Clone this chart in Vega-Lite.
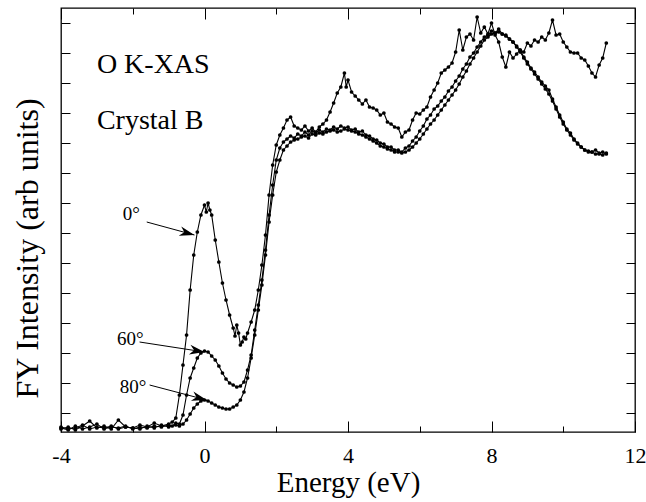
{
  "$schema": "https://vega.github.io/schema/vega-lite/v6.json",
  "width": 574,
  "height": 424,
  "autosize": "none",
  "padding": {"left": 61, "top": 8, "right": 11, "bottom": 70},
  "background": "white",
  "config": {
    "view": {"stroke": "black", "strokeWidth": 1.3},
    "axis": {"tickColor": "black", "tickWidth": 1, "domain": false, "grid": false, "labelColor": "black", "titleColor": "black", "labelFont": "Liberation Serif", "titleFont": "Liberation Serif", "titleFontWeight": "normal"}
  },
  "resolve": {"axis": {"x": "independent", "y": "independent"}},
  "datasets": {
    "deg0": [
      {"energy": -4.0, "intensity": 0.03}, {"energy": -3.8, "intensity": 0.05}, {"energy": -3.6, "intensity": 0.02}, {"energy": -3.4, "intensity": 0.06}, {"energy": -3.2, "intensity": 0.11}, {"energy": -3.0, "intensity": 0.04}, {"energy": -2.8, "intensity": 0.06}, {"energy": -2.6, "intensity": 0.03}, {"energy": -2.4, "intensity": 0.12}, {"energy": -2.2, "intensity": 0.05}, {"energy": -2.0, "intensity": 0.04}, {"energy": -1.8, "intensity": 0.07}, {"energy": -1.6, "intensity": 0.05}, {"energy": -1.4, "intensity": 0.09}, {"energy": -1.2, "intensity": 0.06}, {"energy": -1.0, "intensity": 0.08}, {"energy": -0.9, "intensity": 0.10}, {"energy": -0.8, "intensity": 0.14}, {"energy": -0.7, "intensity": 0.37}, {"energy": -0.6, "intensity": 0.67}, {"energy": -0.5, "intensity": 0.97}, {"energy": -0.4, "intensity": 1.42}, {"energy": -0.3, "intensity": 1.77}, {"energy": -0.2, "intensity": 2.00}, {"energy": -0.1, "intensity": 2.17}, {"energy": 0.0, "intensity": 2.27}, {"energy": 0.05, "intensity": 2.20}, {"energy": 0.1, "intensity": 2.29}, {"energy": 0.15, "intensity": 2.22}, {"energy": 0.2, "intensity": 2.17}, {"energy": 0.3, "intensity": 1.92}, {"energy": 0.4, "intensity": 1.70}, {"energy": 0.5, "intensity": 1.49}, {"energy": 0.6, "intensity": 1.32}, {"energy": 0.7, "intensity": 1.17}, {"energy": 0.8, "intensity": 1.04}, {"energy": 0.85, "intensity": 0.96}, {"energy": 0.9, "intensity": 1.07}, {"energy": 0.95, "intensity": 0.99}, {"energy": 1.0, "intensity": 0.87}, {"energy": 1.05, "intensity": 0.90}, {"energy": 1.1, "intensity": 0.95}, {"energy": 1.15, "intensity": 0.93}, {"energy": 1.2, "intensity": 0.99}, {"energy": 1.3, "intensity": 1.10}, {"energy": 1.4, "intensity": 1.22}, {"energy": 1.5, "intensity": 1.42}, {"energy": 1.6, "intensity": 1.67}, {"energy": 1.7, "intensity": 1.97}, {"energy": 1.8, "intensity": 2.37}, {"energy": 1.9, "intensity": 2.67}, {"energy": 2.0, "intensity": 2.87}, {"energy": 2.1, "intensity": 2.97}, {"energy": 2.2, "intensity": 3.04}, {"energy": 2.3, "intensity": 3.12}, {"energy": 2.4, "intensity": 3.15}, {"energy": 2.5, "intensity": 3.06}, {"energy": 2.6, "intensity": 3.04}, {"energy": 2.7, "intensity": 3.02}, {"energy": 2.8, "intensity": 3.06}, {"energy": 2.9, "intensity": 3.01}, {"energy": 3.0, "intensity": 3.04}, {"energy": 3.1, "intensity": 3.00}, {"energy": 3.2, "intensity": 3.05}, {"energy": 3.3, "intensity": 3.08}, {"energy": 3.4, "intensity": 3.12}, {"energy": 3.5, "intensity": 3.20}, {"energy": 3.6, "intensity": 3.29}, {"energy": 3.7, "intensity": 3.39}, {"energy": 3.8, "intensity": 3.45}, {"energy": 3.9, "intensity": 3.59}, {"energy": 3.95, "intensity": 3.45}, {"energy": 4.0, "intensity": 3.52}, {"energy": 4.1, "intensity": 3.40}, {"energy": 4.2, "intensity": 3.36}, {"energy": 4.3, "intensity": 3.32}, {"energy": 4.4, "intensity": 3.28}, {"energy": 4.5, "intensity": 3.32}, {"energy": 4.6, "intensity": 3.25}, {"energy": 4.7, "intensity": 3.24}, {"energy": 4.8, "intensity": 3.22}, {"energy": 4.9, "intensity": 3.17}, {"energy": 5.0, "intensity": 3.19}, {"energy": 5.1, "intensity": 3.10}, {"energy": 5.2, "intensity": 3.08}, {"energy": 5.3, "intensity": 3.05}, {"energy": 5.4, "intensity": 3.04}, {"energy": 5.5, "intensity": 2.95}, {"energy": 5.6, "intensity": 3.00}, {"energy": 5.7, "intensity": 3.02}, {"energy": 5.8, "intensity": 3.12}, {"energy": 5.9, "intensity": 3.19}, {"energy": 6.0, "intensity": 3.18}, {"energy": 6.1, "intensity": 3.22}, {"energy": 6.2, "intensity": 3.25}, {"energy": 6.3, "intensity": 3.35}, {"energy": 6.4, "intensity": 3.42}, {"energy": 6.5, "intensity": 3.49}, {"energy": 6.6, "intensity": 3.59}, {"energy": 6.7, "intensity": 3.62}, {"energy": 6.8, "intensity": 3.65}, {"energy": 6.9, "intensity": 3.69}, {"energy": 7.0, "intensity": 3.80}, {"energy": 7.1, "intensity": 4.02}, {"energy": 7.2, "intensity": 3.82}, {"energy": 7.3, "intensity": 3.95}, {"energy": 7.4, "intensity": 3.98}, {"energy": 7.5, "intensity": 3.92}, {"energy": 7.6, "intensity": 4.15}, {"energy": 7.7, "intensity": 3.99}, {"energy": 7.8, "intensity": 4.05}, {"energy": 7.9, "intensity": 3.98}, {"energy": 8.0, "intensity": 4.09}, {"energy": 8.1, "intensity": 3.97}, {"energy": 8.2, "intensity": 3.90}, {"energy": 8.3, "intensity": 3.75}, {"energy": 8.4, "intensity": 3.65}, {"energy": 8.5, "intensity": 3.80}, {"energy": 8.6, "intensity": 3.74}, {"energy": 8.7, "intensity": 3.78}, {"energy": 8.8, "intensity": 3.82}, {"energy": 8.9, "intensity": 3.80}, {"energy": 9.0, "intensity": 3.89}, {"energy": 9.1, "intensity": 3.86}, {"energy": 9.2, "intensity": 3.92}, {"energy": 9.3, "intensity": 3.90}, {"energy": 9.4, "intensity": 3.95}, {"energy": 9.5, "intensity": 3.92}, {"energy": 9.6, "intensity": 3.99}, {"energy": 9.7, "intensity": 4.12}, {"energy": 9.8, "intensity": 3.97}, {"energy": 9.9, "intensity": 3.98}, {"energy": 10.0, "intensity": 3.90}, {"energy": 10.1, "intensity": 3.85}, {"energy": 10.2, "intensity": 3.80}, {"energy": 10.3, "intensity": 3.79}, {"energy": 10.4, "intensity": 3.79}, {"energy": 10.5, "intensity": 3.74}, {"energy": 10.6, "intensity": 3.72}, {"energy": 10.7, "intensity": 3.66}, {"energy": 10.8, "intensity": 3.59}, {"energy": 10.9, "intensity": 3.55}, {"energy": 11.0, "intensity": 3.67}, {"energy": 11.1, "intensity": 3.74}, {"energy": 11.2, "intensity": 3.89}
    ],
    "deg60": [
      {"energy": -4.0, "intensity": 0.04}, {"energy": -3.8, "intensity": 0.02}, {"energy": -3.6, "intensity": 0.06}, {"energy": -3.4, "intensity": 0.03}, {"energy": -3.2, "intensity": 0.05}, {"energy": -3.0, "intensity": 0.08}, {"energy": -2.8, "intensity": 0.03}, {"energy": -2.6, "intensity": 0.05}, {"energy": -2.4, "intensity": 0.04}, {"energy": -2.2, "intensity": 0.06}, {"energy": -2.0, "intensity": 0.03}, {"energy": -1.8, "intensity": 0.05}, {"energy": -1.6, "intensity": 0.04}, {"energy": -1.4, "intensity": 0.06}, {"energy": -1.2, "intensity": 0.05}, {"energy": -1.0, "intensity": 0.07}, {"energy": -0.9, "intensity": 0.06}, {"energy": -0.8, "intensity": 0.09}, {"energy": -0.7, "intensity": 0.08}, {"energy": -0.6, "intensity": 0.17}, {"energy": -0.5, "intensity": 0.37}, {"energy": -0.4, "intensity": 0.54}, {"energy": -0.3, "intensity": 0.64}, {"energy": -0.2, "intensity": 0.74}, {"energy": -0.1, "intensity": 0.79}, {"energy": 0.0, "intensity": 0.81}, {"energy": 0.1, "intensity": 0.80}, {"energy": 0.2, "intensity": 0.76}, {"energy": 0.3, "intensity": 0.72}, {"energy": 0.4, "intensity": 0.66}, {"energy": 0.5, "intensity": 0.59}, {"energy": 0.6, "intensity": 0.53}, {"energy": 0.7, "intensity": 0.49}, {"energy": 0.8, "intensity": 0.47}, {"energy": 0.9, "intensity": 0.45}, {"energy": 1.0, "intensity": 0.46}, {"energy": 1.1, "intensity": 0.50}, {"energy": 1.2, "intensity": 0.62}, {"energy": 1.3, "intensity": 0.77}, {"energy": 1.4, "intensity": 1.02}, {"energy": 1.5, "intensity": 1.27}, {"energy": 1.6, "intensity": 1.52}, {"energy": 1.7, "intensity": 1.82}, {"energy": 1.8, "intensity": 2.17}, {"energy": 1.9, "intensity": 2.47}, {"energy": 2.0, "intensity": 2.72}, {"energy": 2.1, "intensity": 2.84}, {"energy": 2.2, "intensity": 2.90}, {"energy": 2.3, "intensity": 2.93}, {"energy": 2.4, "intensity": 2.96}, {"energy": 2.5, "intensity": 2.94}, {"energy": 2.6, "intensity": 2.98}, {"energy": 2.7, "intensity": 2.96}, {"energy": 2.8, "intensity": 3.00}, {"energy": 2.9, "intensity": 2.97}, {"energy": 3.0, "intensity": 3.01}, {"energy": 3.1, "intensity": 2.99}, {"energy": 3.2, "intensity": 3.02}, {"energy": 3.3, "intensity": 3.00}, {"energy": 3.4, "intensity": 3.03}, {"energy": 3.5, "intensity": 3.02}, {"energy": 3.6, "intensity": 3.05}, {"energy": 3.7, "intensity": 3.03}, {"energy": 3.8, "intensity": 3.06}, {"energy": 3.9, "intensity": 3.04}, {"energy": 4.0, "intensity": 3.05}, {"energy": 4.1, "intensity": 3.02}, {"energy": 4.2, "intensity": 3.03}, {"energy": 4.3, "intensity": 3.00}, {"energy": 4.4, "intensity": 3.01}, {"energy": 4.5, "intensity": 2.97}, {"energy": 4.6, "intensity": 2.96}, {"energy": 4.7, "intensity": 2.93}, {"energy": 4.8, "intensity": 2.92}, {"energy": 4.9, "intensity": 2.89}, {"energy": 5.0, "intensity": 2.88}, {"energy": 5.1, "intensity": 2.85}, {"energy": 5.2, "intensity": 2.85}, {"energy": 5.3, "intensity": 2.82}, {"energy": 5.4, "intensity": 2.82}, {"energy": 5.5, "intensity": 2.80}, {"energy": 5.6, "intensity": 2.84}, {"energy": 5.7, "intensity": 2.86}, {"energy": 5.8, "intensity": 2.91}, {"energy": 5.9, "intensity": 2.95}, {"energy": 6.0, "intensity": 3.01}, {"energy": 6.1, "intensity": 3.06}, {"energy": 6.2, "intensity": 3.13}, {"energy": 6.3, "intensity": 3.17}, {"energy": 6.4, "intensity": 3.23}, {"energy": 6.5, "intensity": 3.26}, {"energy": 6.6, "intensity": 3.31}, {"energy": 6.7, "intensity": 3.35}, {"energy": 6.8, "intensity": 3.41}, {"energy": 6.9, "intensity": 3.45}, {"energy": 7.0, "intensity": 3.51}, {"energy": 7.1, "intensity": 3.56}, {"energy": 7.2, "intensity": 3.63}, {"energy": 7.3, "intensity": 3.68}, {"energy": 7.4, "intensity": 3.75}, {"energy": 7.5, "intensity": 3.79}, {"energy": 7.6, "intensity": 3.85}, {"energy": 7.7, "intensity": 3.90}, {"energy": 7.8, "intensity": 3.95}, {"energy": 7.9, "intensity": 3.97}, {"energy": 8.0, "intensity": 4.01}, {"energy": 8.1, "intensity": 3.99}, {"energy": 8.2, "intensity": 4.03}, {"energy": 8.3, "intensity": 3.98}, {"energy": 8.4, "intensity": 3.97}, {"energy": 8.5, "intensity": 3.93}, {"energy": 8.6, "intensity": 3.90}, {"energy": 8.7, "intensity": 3.86}, {"energy": 8.8, "intensity": 3.82}, {"energy": 8.9, "intensity": 3.75}, {"energy": 9.0, "intensity": 3.70}, {"energy": 9.1, "intensity": 3.64}, {"energy": 9.2, "intensity": 3.60}, {"energy": 9.3, "intensity": 3.55}, {"energy": 9.4, "intensity": 3.50}, {"energy": 9.5, "intensity": 3.46}, {"energy": 9.6, "intensity": 3.42}, {"energy": 9.7, "intensity": 3.33}, {"energy": 9.8, "intensity": 3.25}, {"energy": 9.9, "intensity": 3.17}, {"energy": 10.0, "intensity": 3.10}, {"energy": 10.1, "intensity": 3.03}, {"energy": 10.2, "intensity": 2.99}, {"energy": 10.3, "intensity": 2.93}, {"energy": 10.4, "intensity": 2.89}, {"energy": 10.5, "intensity": 2.85}, {"energy": 10.6, "intensity": 2.82}, {"energy": 10.7, "intensity": 2.81}, {"energy": 10.8, "intensity": 2.80}, {"energy": 10.9, "intensity": 2.82}, {"energy": 11.0, "intensity": 2.79}, {"energy": 11.1, "intensity": 2.80}, {"energy": 11.2, "intensity": 2.78}
    ],
    "deg80": [
      {"energy": -4.0, "intensity": 0.05}, {"energy": -3.8, "intensity": 0.03}, {"energy": -3.6, "intensity": 0.04}, {"energy": -3.4, "intensity": 0.07}, {"energy": -3.2, "intensity": 0.03}, {"energy": -3.0, "intensity": 0.05}, {"energy": -2.8, "intensity": 0.04}, {"energy": -2.6, "intensity": 0.06}, {"energy": -2.4, "intensity": 0.03}, {"energy": -2.2, "intensity": 0.05}, {"energy": -2.0, "intensity": 0.04}, {"energy": -1.8, "intensity": 0.03}, {"energy": -1.6, "intensity": 0.06}, {"energy": -1.4, "intensity": 0.04}, {"energy": -1.2, "intensity": 0.07}, {"energy": -1.0, "intensity": 0.05}, {"energy": -0.8, "intensity": 0.07}, {"energy": -0.7, "intensity": 0.06}, {"energy": -0.6, "intensity": 0.08}, {"energy": -0.5, "intensity": 0.12}, {"energy": -0.4, "intensity": 0.18}, {"energy": -0.3, "intensity": 0.24}, {"energy": -0.2, "intensity": 0.28}, {"energy": -0.1, "intensity": 0.31}, {"energy": 0.0, "intensity": 0.32}, {"energy": 0.1, "intensity": 0.31}, {"energy": 0.2, "intensity": 0.29}, {"energy": 0.3, "intensity": 0.27}, {"energy": 0.4, "intensity": 0.25}, {"energy": 0.5, "intensity": 0.24}, {"energy": 0.6, "intensity": 0.23}, {"energy": 0.7, "intensity": 0.23}, {"energy": 0.8, "intensity": 0.25}, {"energy": 0.9, "intensity": 0.27}, {"energy": 1.0, "intensity": 0.32}, {"energy": 1.1, "intensity": 0.40}, {"energy": 1.2, "intensity": 0.54}, {"energy": 1.3, "intensity": 0.74}, {"energy": 1.4, "intensity": 0.97}, {"energy": 1.5, "intensity": 1.22}, {"energy": 1.6, "intensity": 1.47}, {"energy": 1.7, "intensity": 1.77}, {"energy": 1.8, "intensity": 2.10}, {"energy": 1.9, "intensity": 2.37}, {"energy": 2.0, "intensity": 2.60}, {"energy": 2.1, "intensity": 2.72}, {"energy": 2.2, "intensity": 2.82}, {"energy": 2.3, "intensity": 2.86}, {"energy": 2.4, "intensity": 2.90}, {"energy": 2.5, "intensity": 2.92}, {"energy": 2.6, "intensity": 2.93}, {"energy": 2.7, "intensity": 2.95}, {"energy": 2.8, "intensity": 2.96}, {"energy": 2.9, "intensity": 2.94}, {"energy": 3.0, "intensity": 2.98}, {"energy": 3.1, "intensity": 2.97}, {"energy": 3.2, "intensity": 2.99}, {"energy": 3.3, "intensity": 2.98}, {"energy": 3.4, "intensity": 3.00}, {"energy": 3.5, "intensity": 3.01}, {"energy": 3.6, "intensity": 3.02}, {"energy": 3.7, "intensity": 3.00}, {"energy": 3.8, "intensity": 3.01}, {"energy": 3.9, "intensity": 3.03}, {"energy": 4.0, "intensity": 3.02}, {"energy": 4.1, "intensity": 3.01}, {"energy": 4.2, "intensity": 3.00}, {"energy": 4.3, "intensity": 2.98}, {"energy": 4.4, "intensity": 2.97}, {"energy": 4.5, "intensity": 2.95}, {"energy": 4.6, "intensity": 2.93}, {"energy": 4.7, "intensity": 2.91}, {"energy": 4.8, "intensity": 2.89}, {"energy": 4.9, "intensity": 2.86}, {"energy": 5.0, "intensity": 2.85}, {"energy": 5.1, "intensity": 2.83}, {"energy": 5.2, "intensity": 2.82}, {"energy": 5.3, "intensity": 2.80}, {"energy": 5.4, "intensity": 2.80}, {"energy": 5.5, "intensity": 2.79}, {"energy": 5.6, "intensity": 2.80}, {"energy": 5.7, "intensity": 2.82}, {"energy": 5.8, "intensity": 2.85}, {"energy": 5.9, "intensity": 2.89}, {"energy": 6.0, "intensity": 2.93}, {"energy": 6.1, "intensity": 2.98}, {"energy": 6.2, "intensity": 3.03}, {"energy": 6.3, "intensity": 3.08}, {"energy": 6.4, "intensity": 3.12}, {"energy": 6.5, "intensity": 3.17}, {"energy": 6.6, "intensity": 3.22}, {"energy": 6.7, "intensity": 3.27}, {"energy": 6.8, "intensity": 3.32}, {"energy": 6.9, "intensity": 3.37}, {"energy": 7.0, "intensity": 3.42}, {"energy": 7.1, "intensity": 3.48}, {"energy": 7.2, "intensity": 3.55}, {"energy": 7.3, "intensity": 3.61}, {"energy": 7.4, "intensity": 3.68}, {"energy": 7.5, "intensity": 3.74}, {"energy": 7.6, "intensity": 3.80}, {"energy": 7.7, "intensity": 3.86}, {"energy": 7.8, "intensity": 3.92}, {"energy": 7.9, "intensity": 3.95}, {"energy": 8.0, "intensity": 3.98}, {"energy": 8.1, "intensity": 3.99}, {"energy": 8.2, "intensity": 4.00}, {"energy": 8.3, "intensity": 3.98}, {"energy": 8.4, "intensity": 3.96}, {"energy": 8.5, "intensity": 3.93}, {"energy": 8.6, "intensity": 3.90}, {"energy": 8.7, "intensity": 3.85}, {"energy": 8.8, "intensity": 3.80}, {"energy": 8.9, "intensity": 3.74}, {"energy": 9.0, "intensity": 3.68}, {"energy": 9.1, "intensity": 3.63}, {"energy": 9.2, "intensity": 3.58}, {"energy": 9.3, "intensity": 3.53}, {"energy": 9.4, "intensity": 3.48}, {"energy": 9.5, "intensity": 3.43}, {"energy": 9.6, "intensity": 3.38}, {"energy": 9.7, "intensity": 3.31}, {"energy": 9.8, "intensity": 3.23}, {"energy": 9.9, "intensity": 3.15}, {"energy": 10.0, "intensity": 3.08}, {"energy": 10.1, "intensity": 3.02}, {"energy": 10.2, "intensity": 2.97}, {"energy": 10.3, "intensity": 2.92}, {"energy": 10.4, "intensity": 2.88}, {"energy": 10.5, "intensity": 2.85}, {"energy": 10.6, "intensity": 2.82}, {"energy": 10.7, "intensity": 2.80}, {"energy": 10.8, "intensity": 2.80}, {"energy": 10.9, "intensity": 2.78}, {"energy": 11.0, "intensity": 2.78}, {"energy": 11.1, "intensity": 2.77}, {"energy": 11.2, "intensity": 2.79}
    ],
    "notes": [
      {"text": "O K-XAS", "energy": -3.0, "intensity": 3.59},
      {"text": "Crystal B", "energy": -3.0, "intensity": 3.03}
    ],
    "anglelabels": [
      {"text": "0°", "energy": -2.28, "intensity": 2.12},
      {"text": "60°", "energy": -2.44, "intensity": 0.87},
      {"text": "80°", "energy": -2.36, "intensity": 0.39}
    ],
    "arrows": [
      {"label": "0°", "fromE": -1.61, "fromI": 2.10, "toE": -0.28, "toI": 1.97},
      {"label": "60°", "fromE": -1.81, "fromI": 0.90, "toE": 0.0, "toI": 0.80},
      {"label": "80°", "fromE": -1.53, "fromI": 0.47, "toE": 0.06, "toI": 0.32}
    ]
  },
  "layer": [
    {
      "data": {"name": "deg0"},
      "mark": {"type": "line", "color": "black", "strokeWidth": 1.1, "point": {"filled": true, "size": 14, "color": "black"}},
      "encoding": {
        "x": {"field": "energy", "type": "quantitative", "scale": {"domain": [-4, 12], "nice": false, "zero": false},
          "axis": {"orient": "bottom", "values": [-4, -2, 0, 2, 4, 6, 8, 10, 12],
            "tickSize": {"condition": {"test": "datum.value % 4 === 0", "value": -11}, "value": -6},
            "labelExpr": "datum.value % 4 === 0 ? '' + datum.value : ''",
            "labelFontSize": 22, "labelPadding": 24, "labelFlush": false, "labelOverlap": false,
            "title": "Energy (eV)", "titleFontSize": 29, "titleY": 59, "titleBaseline": "alphabetic"}},
        "y": {"field": "intensity", "type": "quantitative", "scale": {"domain": [0, 4.24], "nice": false, "zero": false},
          "axis": {"orient": "left", "values": [0.19, 0.49, 0.79, 1.09, 1.39, 1.69, 1.99, 2.29, 2.59, 2.89, 3.19, 3.49, 3.79, 4.09],
            "tickSize": -9, "labels": false,
            "title": "FY Intensity (arb units)", "titleFontSize": 32, "titleAngle": -90, "titleX": -24, "titleY": 240, "titleAlign": "center", "titleBaseline": "alphabetic"}}
      }
    },
    {
      "data": {"name": "deg60"},
      "mark": {"type": "line", "color": "black", "strokeWidth": 1.1, "point": {"filled": true, "size": 14, "color": "black"}},
      "encoding": {
        "x": {"field": "energy", "type": "quantitative", "scale": {"domain": [-4, 12], "nice": false, "zero": false},
          "axis": {"orient": "top", "values": [-4, -2, 0, 2, 4, 6, 8, 10, 12],
            "tickSize": {"condition": {"test": "datum.value % 4 === 0", "value": -11}, "value": -6},
            "labels": false, "title": null}},
        "y": {"field": "intensity", "type": "quantitative", "scale": {"domain": [0, 4.24], "nice": false, "zero": false},
          "axis": {"orient": "right", "values": [0.19, 0.49, 0.79, 1.09, 1.39, 1.69, 1.99, 2.29, 2.59, 2.89, 3.19, 3.49, 3.79, 4.09],
            "tickSize": -9, "labels": false, "title": null}}
      }
    },
    {
      "data": {"name": "deg80"},
      "mark": {"type": "line", "color": "black", "strokeWidth": 1.1, "point": {"filled": true, "size": 14, "color": "black"}},
      "encoding": {
        "x": {"field": "energy", "type": "quantitative", "scale": {"domain": [-4, 12], "nice": false, "zero": false}, "axis": null},
        "y": {"field": "intensity", "type": "quantitative", "scale": {"domain": [0, 4.24], "nice": false, "zero": false}, "axis": null}
      }
    },
    {
      "data": {"name": "notes"},
      "mark": {"type": "text", "align": "left", "baseline": "alphabetic", "font": "Liberation Serif", "fontSize": 28, "color": "black"},
      "encoding": {
        "x": {"field": "energy", "type": "quantitative", "scale": {"domain": [-4, 12], "nice": false, "zero": false}, "axis": null},
        "y": {"field": "intensity", "type": "quantitative", "scale": {"domain": [0, 4.24], "nice": false, "zero": false}, "axis": null},
        "text": {"field": "text"}
      }
    },
    {
      "data": {"name": "anglelabels"},
      "mark": {"type": "text", "align": "left", "baseline": "alphabetic", "font": "Liberation Serif", "fontSize": 19, "color": "black"},
      "encoding": {
        "x": {"field": "energy", "type": "quantitative", "scale": {"domain": [-4, 12], "nice": false, "zero": false}, "axis": null},
        "y": {"field": "intensity", "type": "quantitative", "scale": {"domain": [0, 4.24], "nice": false, "zero": false}, "axis": null},
        "text": {"field": "text"}
      }
    },
    {
      "data": {"name": "arrows"},
      "mark": {"type": "rule", "color": "black", "strokeWidth": 1},
      "encoding": {
        "x": {"field": "fromE", "type": "quantitative", "scale": {"domain": [-4, 12], "nice": false, "zero": false}, "axis": null},
        "y": {"field": "fromI", "type": "quantitative", "scale": {"domain": [0, 4.24], "nice": false, "zero": false}, "axis": null},
        "x2": {"field": "toE"},
        "y2": {"field": "toI"}
      }
    },
    {
      "data": {"name": "arrows"},
      "transform": [{"filter": "datum.label === '0°'"}],
      "mark": {"type": "point", "shape": "M0,0 L-2,-0.65 L-1.4,0 L-2,0.65 Z", "filled": true, "color": "black", "opacity": 1, "size": 225, "angle": 15},
      "encoding": {
        "x": {"field": "toE", "type": "quantitative", "scale": {"domain": [-4, 12], "nice": false, "zero": false}, "axis": null},
        "y": {"field": "toI", "type": "quantitative", "scale": {"domain": [0, 4.24], "nice": false, "zero": false}, "axis": null}
      }
    },
    {
      "data": {"name": "arrows"},
      "transform": [{"filter": "datum.label === '60°'"}],
      "mark": {"type": "point", "shape": "M0,0 L-2,-0.65 L-1.4,0 L-2,0.65 Z", "filled": true, "color": "black", "opacity": 1, "size": 225, "angle": 9},
      "encoding": {
        "x": {"field": "toE", "type": "quantitative", "scale": {"domain": [-4, 12], "nice": false, "zero": false}, "axis": null},
        "y": {"field": "toI", "type": "quantitative", "scale": {"domain": [0, 4.24], "nice": false, "zero": false}, "axis": null}
      }
    },
    {
      "data": {"name": "arrows"},
      "transform": [{"filter": "datum.label === '80°'"}],
      "mark": {"type": "point", "shape": "M0,0 L-2,-0.65 L-1.4,0 L-2,0.65 Z", "filled": true, "color": "black", "opacity": 1, "size": 225, "angle": 15},
      "encoding": {
        "x": {"field": "toE", "type": "quantitative", "scale": {"domain": [-4, 12], "nice": false, "zero": false}, "axis": null},
        "y": {"field": "toI", "type": "quantitative", "scale": {"domain": [0, 4.24], "nice": false, "zero": false}, "axis": null}
      }
    }
  ]
}
